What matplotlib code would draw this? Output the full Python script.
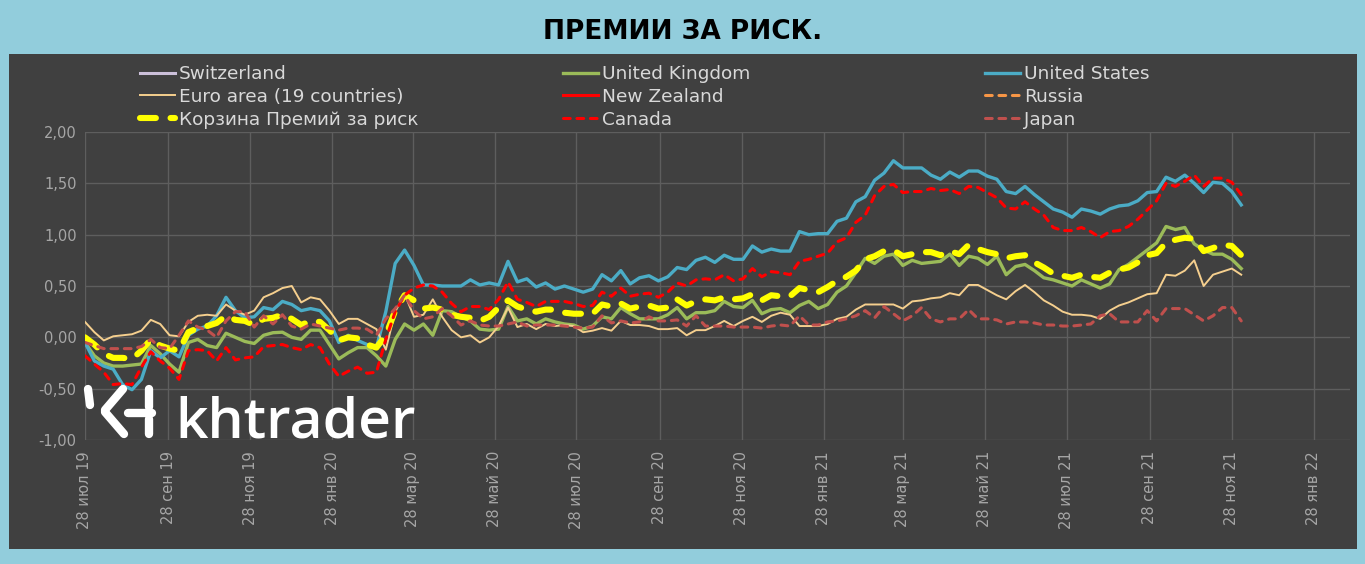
import matplotlib
matplotlib.use("Agg")
import matplotlib.pyplot as plt
from matplotlib.patches import Rectangle
from matplotlib.lines import Line2D
import pandas as pd

# weekly observations, first one on 28 Jul 2019
start_date = "2019-07-28"
n_weeks = 124

switzerland = []
new_zealand = []
russia = []

united_kingdom = [
    -0.05, -0.18, -0.25, -0.28, -0.28, -0.27, -0.26, -0.08, -0.16, -0.26,
    -0.34, -0.05, -0.02, -0.08, -0.10, 0.04, 0.00, -0.04, -0.06, 0.02,
    0.045, 0.05, 0.00, -0.02, 0.07, 0.07, -0.07, -0.21, -0.15, -0.10,
    -0.10, -0.18, -0.28, -0.02, 0.13, 0.07, 0.13, 0.02, 0.26, 0.25,
    0.20, 0.16, 0.08, 0.07, 0.08, 0.30, 0.16, 0.18, 0.13, 0.18,
    0.15, 0.13, 0.12, 0.08, 0.11, 0.20, 0.18, 0.29, 0.23, 0.18,
    0.18, 0.18, 0.22, 0.29, 0.18, 0.24, 0.24, 0.26, 0.35, 0.30,
    0.29, 0.36, 0.23, 0.27, 0.28, 0.24, 0.31, 0.35, 0.28, 0.32,
    0.44, 0.50, 0.63, 0.77, 0.72, 0.79, 0.81, 0.70, 0.75, 0.72,
    0.73, 0.74, 0.81, 0.70, 0.79, 0.77, 0.71, 0.79, 0.61, 0.69,
    0.71, 0.65, 0.58, 0.56, 0.53, 0.50, 0.56, 0.52, 0.48, 0.52,
    0.66, 0.71, 0.78, 0.85, 0.92, 1.08, 1.05, 1.07, 0.91, 0.85,
    0.81, 0.81, 0.76, 0.67,
]

united_states = [
    -0.05, -0.23, -0.28, -0.31, -0.46, -0.51, -0.41, -0.13, -0.20, -0.13,
    -0.19, 0.02, 0.08, 0.11, 0.21, 0.39, 0.26, 0.19, 0.20, 0.29,
    0.27, 0.35, 0.32, 0.26, 0.28, 0.26, 0.16, -0.05, 0.02, -0.03,
    -0.07, -0.10, 0.25, 0.72, 0.85, 0.70, 0.51, 0.51, 0.50, 0.50,
    0.50, 0.56, 0.51, 0.53, 0.51, 0.74, 0.54, 0.57, 0.49, 0.53,
    0.47, 0.50, 0.47, 0.44, 0.47, 0.61, 0.55, 0.65, 0.52, 0.58,
    0.60, 0.55, 0.59, 0.68, 0.66, 0.75, 0.78, 0.73, 0.80, 0.76,
    0.76, 0.89, 0.83, 0.86, 0.84, 0.84, 1.03, 1.00, 1.01, 1.01,
    1.13, 1.16, 1.32, 1.37, 1.53, 1.60, 1.72, 1.65, 1.65, 1.65,
    1.58, 1.54, 1.61, 1.56, 1.62, 1.62, 1.57, 1.54, 1.42, 1.40,
    1.47, 1.39, 1.32, 1.25, 1.22, 1.17, 1.25, 1.23, 1.20, 1.25,
    1.28, 1.29, 1.33, 1.41, 1.42, 1.56, 1.52, 1.58, 1.50, 1.41,
    1.51, 1.50, 1.42, 1.29,
]

euro_area = [
    0.15, 0.05, -0.03, 0.01, 0.02, 0.03, 0.065, 0.17, 0.13, 0.02,
    0.01, 0.15, 0.21, 0.22, 0.21, 0.32, 0.26, 0.22, 0.26, 0.39,
    0.43, 0.48, 0.50, 0.34, 0.39, 0.37, 0.26, 0.13, 0.18, 0.18,
    0.13, 0.08, -0.12, 0.25, 0.42, 0.20, 0.22, 0.37, 0.20, 0.07,
    0.00, 0.02, -0.05, 0.00, 0.11, 0.29, 0.10, 0.13, 0.08, 0.13,
    0.11, 0.12, 0.11, 0.05, 0.065, 0.09, 0.065, 0.16, 0.12, 0.12,
    0.11, 0.08, 0.08, 0.09, 0.02, 0.07, 0.07, 0.11, 0.16, 0.11,
    0.16, 0.20, 0.15, 0.21, 0.24, 0.22, 0.11, 0.11, 0.11, 0.13,
    0.18, 0.20, 0.27, 0.32, 0.32, 0.32, 0.32, 0.28, 0.35, 0.36,
    0.38, 0.39, 0.43, 0.41, 0.51, 0.51, 0.46, 0.41, 0.37, 0.45,
    0.51, 0.44, 0.36, 0.31, 0.25, 0.22, 0.22, 0.21, 0.18, 0.26,
    0.31, 0.34, 0.38, 0.42, 0.43, 0.61, 0.60, 0.65, 0.75, 0.50,
    0.61, 0.64, 0.67, 0.61,
]

basket = [
    0.00, -0.07, -0.16, -0.20, -0.20, -0.21, -0.13, -0.02, -0.08, -0.11,
    -0.13, 0.05, 0.09, 0.11, 0.14, 0.21, 0.17, 0.16, 0.12, 0.18,
    0.19, 0.22, 0.18, 0.12, 0.16, 0.15, 0.07, -0.03, 0.00, -0.01,
    -0.07, -0.10, 0.02, 0.26, 0.41, 0.36, 0.28, 0.29, 0.27, 0.22,
    0.20, 0.19, 0.16, 0.20, 0.29, 0.36, 0.30, 0.27, 0.25, 0.27,
    0.27, 0.24, 0.23, 0.23, 0.23, 0.32, 0.30, 0.33, 0.28, 0.30,
    0.31, 0.28, 0.29, 0.37, 0.31, 0.35, 0.37, 0.36, 0.39, 0.37,
    0.38, 0.42, 0.36, 0.41, 0.40, 0.40, 0.48, 0.46, 0.44, 0.49,
    0.55, 0.59, 0.65, 0.76, 0.79, 0.84, 0.85, 0.79, 0.81, 0.83,
    0.83, 0.80, 0.84, 0.81, 0.90, 0.86, 0.83, 0.81, 0.77, 0.79,
    0.80, 0.73, 0.68, 0.62, 0.60, 0.58, 0.61, 0.59, 0.58, 0.63,
    0.66, 0.68, 0.73, 0.80, 0.82, 0.92, 0.95, 0.97, 0.96, 0.84,
    0.87, 0.90, 0.89, 0.80,
]

canada = [
    -0.18, -0.26, -0.34, -0.46, -0.45, -0.46, -0.29, -0.14, -0.23, -0.30,
    -0.41, -0.13, -0.12, -0.13, -0.23, -0.10, -0.22, -0.20, -0.19, -0.09,
    -0.08, -0.07, -0.10, -0.12, -0.07, -0.10, -0.26, -0.38, -0.33, -0.29,
    -0.35, -0.34, -0.02, 0.25, 0.41, 0.48, 0.51, 0.50, 0.44, 0.33,
    0.25, 0.30, 0.30, 0.27, 0.37, 0.54, 0.37, 0.34, 0.30, 0.35,
    0.35, 0.35, 0.33, 0.30, 0.31, 0.44, 0.40, 0.48, 0.40, 0.42,
    0.43, 0.39, 0.44, 0.53, 0.50, 0.56, 0.57, 0.56, 0.61, 0.55,
    0.57, 0.67, 0.59, 0.64, 0.63, 0.61, 0.74, 0.76, 0.79, 0.82,
    0.93, 0.97, 1.12, 1.19, 1.38, 1.47, 1.49, 1.41, 1.42, 1.42,
    1.45, 1.43, 1.44, 1.40, 1.47, 1.46, 1.41, 1.36, 1.26, 1.25,
    1.32, 1.25, 1.19, 1.07, 1.04, 1.04, 1.07, 1.03, 0.97, 1.03,
    1.04, 1.08, 1.15, 1.24, 1.33, 1.50, 1.47, 1.52, 1.58, 1.47,
    1.55, 1.55, 1.51, 1.39,
]

japan = [
    -0.05, -0.08, -0.11, -0.11, -0.11, -0.11, -0.09, -0.02, -0.10, -0.11,
    0.02, 0.16, 0.10, 0.07, 0.00, 0.16, 0.25, 0.25, 0.10, 0.21,
    0.13, 0.22, 0.11, 0.08, 0.13, 0.11, 0.09, 0.07, 0.09, 0.09,
    0.08, 0.02, 0.18, 0.28, 0.41, 0.26, 0.18, 0.20, 0.28, 0.21,
    0.12, 0.16, 0.12, 0.11, 0.11, 0.13, 0.15, 0.11, 0.12, 0.12,
    0.12, 0.11, 0.10, 0.09, 0.10, 0.21, 0.14, 0.16, 0.14, 0.15,
    0.20, 0.16, 0.16, 0.17, 0.11, 0.21, 0.11, 0.11, 0.11, 0.10,
    0.10, 0.10, 0.09, 0.11, 0.12, 0.11, 0.21, 0.12, 0.12, 0.15,
    0.16, 0.18, 0.21, 0.26, 0.19, 0.30, 0.23, 0.16, 0.21, 0.29,
    0.18, 0.15, 0.18, 0.18, 0.27, 0.18, 0.18, 0.17, 0.13, 0.15,
    0.15, 0.14, 0.12, 0.12, 0.11, 0.11, 0.12, 0.13, 0.21, 0.23,
    0.15, 0.15, 0.15, 0.26, 0.16, 0.28, 0.28, 0.28, 0.22, 0.16,
    0.21, 0.29, 0.29, 0.16,
]

tick_dates = ["2019-07-28", "2019-09-28", "2019-11-28", "2020-01-28", "2020-03-28",
              "2020-05-28", "2020-07-28", "2020-09-28", "2020-11-28", "2021-01-28",
              "2021-03-28", "2021-05-28", "2021-07-28", "2021-09-28", "2021-11-28",
              "2022-01-28"]
tick_labels = ["28 июл 19", "28 сен 19", "28 ноя 19", "28 янв 20", "28 мар 20",
               "28 май 20", "28 июл 20", "28 сен 20", "28 ноя 20", "28 янв 21",
               "28 мар 21", "28 май 21", "28 июл 21", "28 сен 21", "28 ноя 21",
               "28 янв 22"]
y_ticks = [-1.0, -0.5, 0.0, 0.5, 1.0, 1.5, 2.0]

dates = pd.date_range(start_date, periods=n_weeks, freq="7D")

W, H = 1365, 564
fig = plt.figure(figsize=(W / 100, H / 100), dpi=100)
fig.patch.set_facecolor("#92CDDC")

# dark panel behind everything
fig.patches.append(Rectangle((9 / W, 1 - 549 / H), (1357 - 9) / W, (549 - 54) / H,
                             transform=fig.transFigure, facecolor="#404040",
                             edgecolor="none", zorder=-5))

fig.text(683 / W, 1 - 32 / H, "ПРЕМИИ ЗА РИСК.", ha="center", va="center",
         fontsize=19, fontweight="bold", color="black")

ax = fig.add_axes([85 / W, 1 - 440 / H, (1350 - 85) / W, (440 - 132) / H])
ax.set_facecolor("none")
ax.set_zorder(1)

dashed = dict(dash_capstyle="round")
series = [
    ("Switzerland", switzerland, dict(color="#CCC0DA", lw=2.2)),
    ("United Kingdom", united_kingdom, dict(color="#9BBB59", lw=2.4)),
    ("United States", united_states, dict(color="#4BACC6", lw=2.4)),
    ("Euro area (19 countries)", euro_area, dict(color="#F5CF8E", lw=1.4)),
    ("New Zealand", new_zealand, dict(color="#FF0000", lw=2.2)),
    ("Russia", russia, dict(color="#F79646", lw=2.2, ls=(0, (2.2, 2.2)), **dashed)),
    ("Корзина Премий за риск", basket, dict(color="#FFFF00", lw=4.4, ls=(0, (2.6, 2.4)), **dashed)),
    ("Canada", canada, dict(color="#FF0000", lw=2.2, ls=(0, (2.2, 2.2)), **dashed)),
    ("Japan", japan, dict(color="#C0504D", lw=2.2, ls=(0, (2.2, 2.2)), **dashed)),
]

handles = {}
for name, values, style in series:
    line, = ax.plot(dates[:len(values)], values, label=name, **style)
    handles[name] = line

ax.set_ylim(-1.0, 2.0)
ax.set_yticks(y_ticks)
ax.set_yticklabels([f"{v:.2f}".replace(".", ",") for v in y_ticks])
ax.set_xlim(pd.Timestamp("2019-07-28"), pd.Timestamp("2022-02-24"))
ax.set_xticks(pd.to_datetime(tick_dates))
ax.set_xticklabels(tick_labels, rotation=90)
ax.tick_params(length=0, colors="#A6A6A6", labelsize=10.5)
ax.tick_params(axis="y", pad=6)
ax.tick_params(axis="x", pad=8)
ax.grid(True, color="#5E5E5E", lw=1)
ax.set_axisbelow(True)
for s in ax.spines.values():
    s.set_visible(False)

# legend: three columns placed like the original
columns = [
    (140, ["Switzerland", "Euro area (19 countries)", "Корзина Премий за риск"]),
    (563, ["United Kingdom", "New Zealand", "Canada"]),
    (985, ["United States", "Russia", "Japan"]),
]
for x0, names in columns:
    leg = fig.legend([handles[n] for n in names], names, loc="upper left",
                     bbox_to_anchor=(x0 / W, 1 - 65 / H), frameon=False,
                     fontsize=13.3, handlelength=1.9, handletextpad=0.2,
                     labelspacing=0.26, borderpad=0, borderaxespad=0)
    for t in leg.get_texts():
        t.set_color("#D9D9D9")

# khtrader watermark
def px(x, y):
    return x / W, 1 - y / H

logo = [((88, 389), (90, 405)),
        ((123, 389), (105, 410)), ((105, 412), (124, 434)),
        ((149, 389), (149, 407)), ((128, 413), (152, 413)), ((149, 419), (149, 434))]
for (xa, ya), (xb, yb) in logo:
    (fa, ga), (fb, gb) = px(xa, ya), px(xb, yb)
    fig.lines.append(Line2D([fa, fb], [ga, gb], transform=fig.transFigure,
                            color="white", lw=6, solid_capstyle="round", zorder=5))
fig.text(175 / W, 1 - 438 / H, "khtrader", fontsize=41, color="white",
         family="Open Sans", fontweight="semibold", ha="left", va="baseline", zorder=5)

fig.savefig("out.png", dpi=100, facecolor=fig.get_facecolor())
